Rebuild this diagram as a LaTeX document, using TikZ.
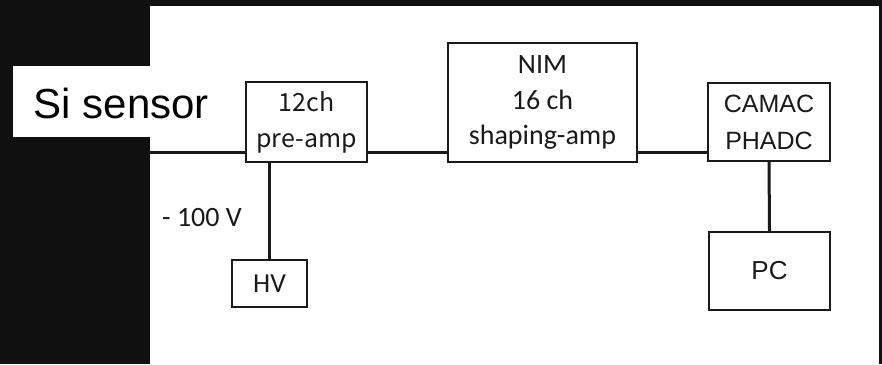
\documentclass[tikz,border=0pt]{standalone}
\usepackage{fontspec}
\setmainfont{Liberation Sans}
\newfontfamily\carlito{Carlito}
\newfontfamily\gothic{Noto Sans CJK JP}
\usepackage{tikz}
\usetikzlibrary{calc}
\definecolor{slidebg}{HTML}{101010}
\definecolor{inkgray}{HTML}{1A1A1A}

\tikzset{
  unit/.style={draw=inkgray, line width=2pt, fill=white, text=inkgray, align=center, inner sep=0pt},
  wire/.style={draw=inkgray, line width=3pt}
}

\begin{document}
\begin{tikzpicture}[x=1pt, y=-1pt]
\fill[slidebg] (0,0) rectangle (882,364);
\fill[white] (150,6) rectangle (879,364);
\fill[white] (13,66) rectangle (150,137);
\useasboundingbox (0,0) rectangle (882,364);

\node[text=black, font=\fontsize{42}{50}\selectfont] (sensor) at (121.5,103) {Si sensor};
\coordinate (sig) at (150,152);

\node[unit, minimum width=121pt, minimum height=80pt, font=\gothic\fontsize{25}{36}\selectfont] (pre) at (306.5,122) {12ch\\pre-amp};
\node[unit, minimum width=189pt, minimum height=119pt, font=\carlito\fontsize{28}{35.5}\selectfont] (nim) at (542.5,102.5) {NIM\\16 ch\\shaping-amp};
\node[unit, minimum width=122pt, minimum height=78pt, font=\fontsize{25}{37}\selectfont] (camac) at (769,122) {CAMAC\\PHADC};
\node[unit, minimum width=121pt, minimum height=78pt, font=\fontsize{26}{30}\selectfont] (pc) at (769.5,271) {PC};
\node[unit, minimum width=75pt, minimum height=47pt, font=\carlito\fontsize{27.5}{30}\selectfont] (hv) at (269.5,283.5) {HV};
\node[text=inkgray, font=\carlito\fontsize{28}{30}\selectfont] (bias) at (202,218) {- 100 V};

% signal chain
\draw[wire] (sig) -- (sig -| pre.west);
\draw[wire] (pre.east |- sig) -- (nim.west |- sig);
\draw[wire] (nim.east |- sig) -- (camac.west |- sig);
\draw[wire] (camac.south) -- (pc.north);
\draw[wire] (hv.north) -- (hv.north |- pre.south);
\end{tikzpicture}
\end{document}
